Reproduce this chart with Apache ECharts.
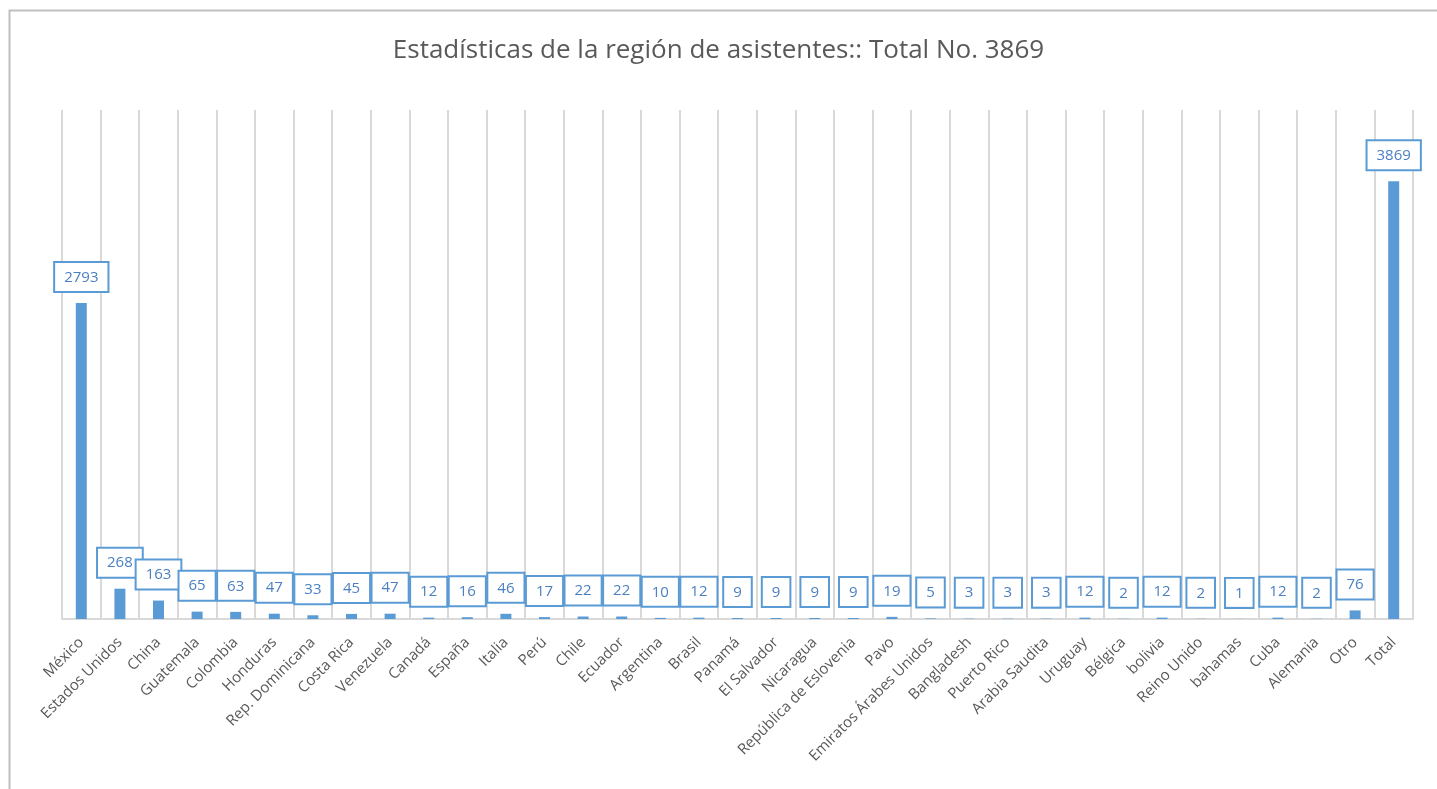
<!DOCTYPE html>
<html>
<head>
<meta charset="utf-8">
<script src="https://cdn.jsdelivr.net/npm/echarts@6/dist/echarts.min.js"></script>
<style>
  html, body { margin: 0; padding: 0; background: #fff; }
  #chart { width: 1437px; height: 789px; }
</style>
</head>
<body>
<div id="chart"></div>
<script>
// categories and values
var paises = [
  "México", "Estados Unidos", "China", "Guatemala", "Colombia", "Honduras",
  "Rep. Dominicana", "Costa Rica", "Venezuela", "Canadá", "España", "Italia",
  "Perú", "Chile", "Ecuador", "Argentina", "Brasil", "Panamá", "El Salvador",
  "Nicaragua", "República de Eslovenia", "Pavo", "Emiratos Árabes Unidos",
  "Bangladesh", "Puerto Rico", "Arabia Saudita", "Uruguay", "Bélgica", "bolivia",
  "Reino Unido", "bahamas", "Cuba", "Alemania", "Otro", "Total"
];
var asistentes = [
  2793, 268, 163, 65, 63, 47,
  33, 45, 47, 12, 16, 46,
  17, 22, 22, 10, 12, 9, 9,
  9, 9, 19, 5,
  3, 3, 3, 12, 2, 12,
  2, 1, 12, 2, 76, 3869
];
var titulo = "Estadísticas de la región de asistentes:: Total No. 3869";

var chart = echarts.init(document.getElementById("chart"));

chart.setOption({
  animation: false,
  textStyle: { fontFamily: "Open Sans" },
  title: {
    text: titulo,
    left: "center",
    top: 33,
    textStyle: { color: "#595959", fontSize: 26, fontWeight: "normal", fontFamily: "Open Sans" }
  },
  graphic: [
    {
      type: "rect",
      left: 7, top: 8,
      shape: { width: 1460, height: 800 },
      style: { fill: "none", stroke: "#bfbfbf", lineWidth: 2 },
      silent: true
    }
  ],
  grid: { left: 62, right: 24, top: 110, bottom: 170 },
  xAxis: {
    type: "category",
    data: paises,
    axisTick: { show: false },
    axisLine: { lineStyle: { color: "#d9d9d9", width: 2 } },
    splitLine: { show: true, lineStyle: { color: "#d9d9d9", width: 2 } },
    axisLabel: {
      interval: 0,
      rotate: 45,
      margin: 21,
      color: "#595959",
      fontSize: 15
    }
  },
  yAxis: {
    type: "value",
    min: 0,
    max: 4500,
    show: false,
    splitLine: { show: false }
  },
  series: [
    {
      type: "bar",
      data: asistentes,
      barWidth: 11,
      itemStyle: { color: "#5b9bd5" },
      label: {
        show: true,
        position: "top",
        distance: 12,
        color: "#4a7fc1",
        fontSize: 15,
        backgroundColor: "#fff",
        borderColor: "#5b9bd5",
        borderWidth: 2,
        padding: [7, 9, 6, 9]
      }
    }
  ]
});
</script>
</body>
</html>
